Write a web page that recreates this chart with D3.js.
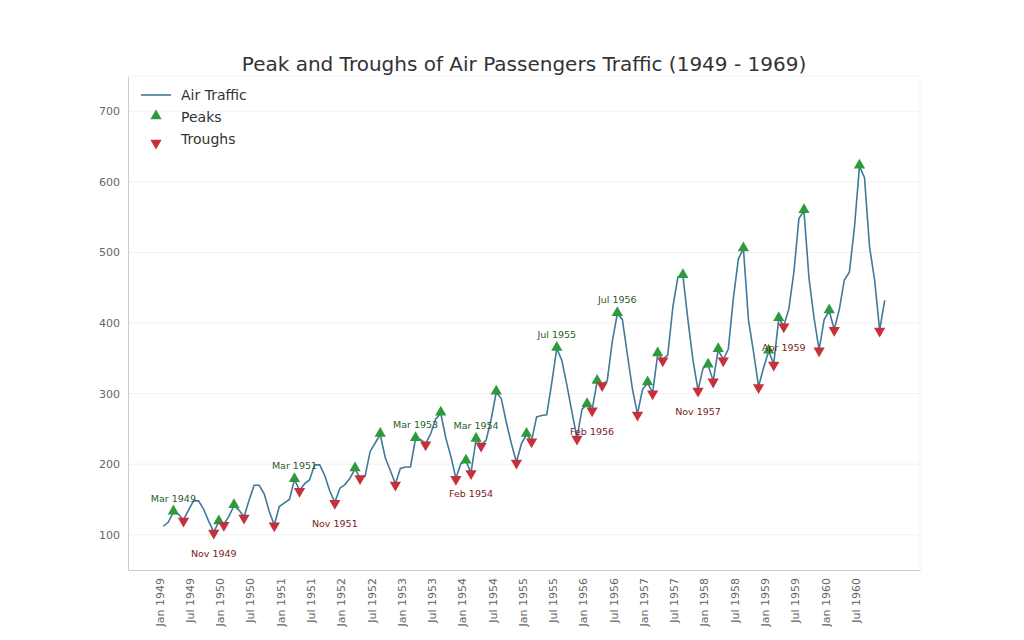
<!DOCTYPE html>
<html><head><meta charset="utf-8">
<script src="https://cdn.jsdelivr.net/npm/d3@7"></script>
<style>body{margin:0;background:#fff;font-family:"DejaVu Sans",sans-serif}</style>
</head><body><svg id="c" width="1024" height="640"></svg>
<script>
const months = ["Jan","Feb","Mar","Apr","May","Jun","Jul","Aug","Sep","Oct","Nov","Dec"]
const years = d3.range(1949, 1961)
const traffic = [
  112,118,132,129,121,135,148,148,136,119,104,118,
  115,126,141,135,125,149,170,170,158,133,114,140,
  145,150,178,163,172,178,199,199,184,162,146,166,
  171,180,193,181,183,218,230,242,209,191,172,194,
  196,196,236,235,229,243,264,272,237,211,180,201,
  204,188,235,227,234,264,302,293,259,229,203,229,
  242,233,267,269,270,315,364,347,312,274,237,278,
  284,277,317,313,318,374,413,405,355,306,271,306,
  315,301,356,348,355,422,465,467,404,347,305,336,
  340,318,362,348,363,435,491,505,404,359,310,337,
  360,342,406,396,420,472,548,559,463,407,362,405,
  417,391,419,461,472,535,622,606,508,461,390,432]
const dates = years.flatMap(y => months.map(m => m + " " + y))
const yTicks = [100, 200, 300, 400, 500, 600, 700]

// peaks / troughs from sign of the first difference
const sgn = d3.range(1, traffic.length).map(i => Math.sign(traffic[i] - traffic[i-1]))
const peaks = [], troughs = []
for (let i = 1; i < sgn.length; i++) {
  if (sgn[i] - sgn[i-1] === -2) peaks.push(i)
  if (sgn[i] - sgn[i-1] === 2) troughs.push(i)
}

const svg = d3.select("#c")
const x = d3.scaleLinear().domain([-7, 150]).range([128, 920])
const y = d3.scaleLinear().domain([50, 750]).range([570, 76])

svg.selectAll(".grid").data(yTicks).join("line")
  .attr("x1", 128).attr("x2", 920).attr("y1", d => y(d)).attr("y2", d => y(d))
  .attr("stroke", "#eee").attr("stroke-width", 0.8)

const yAxis = svg.append("g").attr("transform", "translate(128,0)")
  .call(d3.axisLeft(y).tickValues(yTicks).tickSize(0).tickPadding(8))
yAxis.select(".domain").attr("stroke", "#ccc")
yAxis.selectAll("text").attr("fill", "#666").style("font-size", "11px").style("font-family", "DejaVu Sans")

const xt = d3.range(0, 144, 6)
const xAxis = svg.append("g").attr("transform", "translate(0,570)")
  .call(d3.axisBottom(x).tickValues(xt).tickSize(0).tickFormat(i => dates[i]))
xAxis.select(".domain").attr("stroke", "#ccc")
xAxis.selectAll("text").attr("fill", "#666").style("font-size", "11px").style("font-family", "DejaVu Sans")
  .attr("transform", "rotate(-90)").attr("text-anchor", "end").attr("x", -8).attr("y", -4).attr("dy", "0.35em")
svg.append("line").attr("x1", 920).attr("x2", 920).attr("y1", 76).attr("y2", 570).attr("stroke", "#f2f2f2")
svg.append("line").attr("x1", 128).attr("x2", 920).attr("y1", 76).attr("y2", 76).attr("stroke", "#f2f2f2")

svg.append("path").datum(traffic)
  .attr("d", d3.line().x((d, i) => x(i)).y(d => y(d)))
  .attr("fill", "none").attr("stroke", "#3f7a9a").attr("stroke-width", 1.6)

const tri = d3.symbol().type(d3.symbolTriangle).size(55)
svg.selectAll(".pk").data(peaks).join("path")
  .attr("d", tri).attr("transform", i => `translate(${x(i)},${y(traffic[i]) - 1})`)
  .attr("fill", "#2e9a3c")
svg.selectAll(".tr").data(troughs).join("path")
  .attr("d", tri).attr("transform", i => `translate(${x(i)},${y(traffic[i]) + 1}) rotate(180)`)
  .attr("fill", "#c7303a")

const tl = troughs.filter((d, i) => i >= 1 && (i - 1) % 5 === 0)
const pl = peaks.filter((d, i) => i % 3 === 0)
const n = Math.min(tl.length, pl.length)
for (let k = 0; k < n; k++) {
  const p = pl[k], t = tl[k]
  svg.append("text").attr("x", x(p)).attr("y", y(traffic[p] + 15)).attr("text-anchor", "middle")
    .attr("fill", "#1f5e1f").style("font-size", "9.5px").text(dates[p])
  svg.append("text").attr("x", x(t)).attr("y", y(traffic[t] - 35)).attr("text-anchor", "middle")
    .attr("fill", "#7a1a1a").style("font-size", "9.5px").text(dates[t])
}

svg.append("text").attr("x", 524).attr("y", 71).attr("text-anchor", "middle")
  .attr("fill", "#333").style("font-size", "20px").text("Peak and Troughs of Air Passengers Traffic (1949 - 1969)")

const lg = svg.append("g")
lg.append("line").attr("x1", 141).attr("x2", 171).attr("y1", 95).attr("y2", 95).attr("stroke", "#3f7a9a").attr("stroke-width", 1.6)
lg.append("path").attr("d", tri).attr("transform", "translate(156,116)").attr("fill", "#2e9a3c")
lg.append("path").attr("d", tri).attr("transform", "translate(156,143) rotate(180)").attr("fill", "#c7303a")
;[["Air Traffic", 100], ["Peaks", 122], ["Troughs", 144]].forEach(([t, yy]) =>
  lg.append("text").attr("x", 181).attr("y", yy).attr("fill", "#333").style("font-size", "14px").text(t))
</script></body></html>
